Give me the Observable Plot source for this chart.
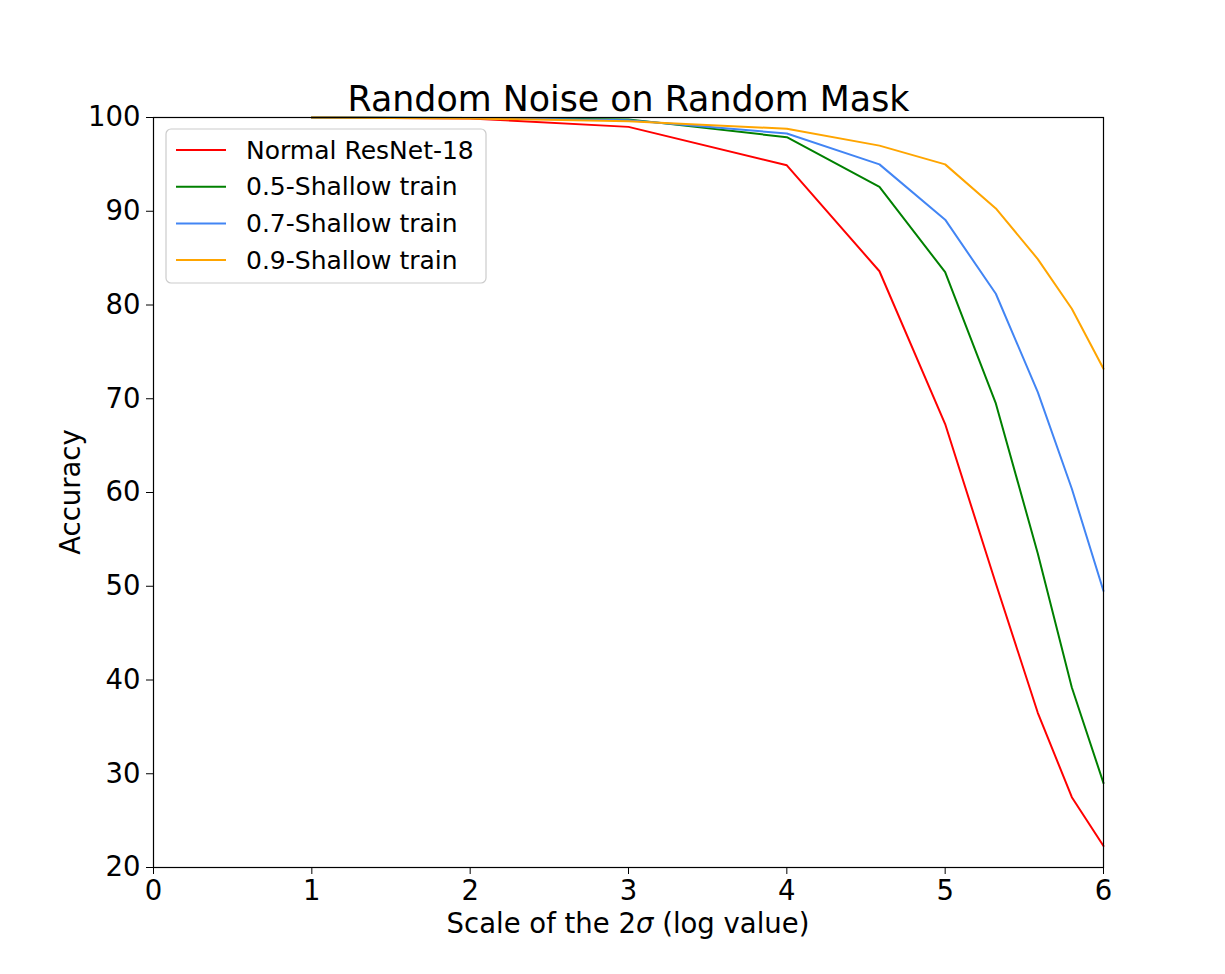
<!DOCTYPE html>
<html><head><meta charset="utf-8">
<script src="https://cdn.jsdelivr.net/npm/d3@7"></script>
<script src="https://cdn.jsdelivr.net/npm/@observablehq/plot@0.6"></script>
<style>body{margin:0;background:#fff;}</style>
</head><body><div id="chart"></div>
<script>
const xValues = [1, 2, 3, 4, 4.585, 5, 5.32, 5.585, 5.8, 6];
const seriesNames = ["Normal ResNet-18", "0.5-Shallow train", "0.7-Shallow train", "0.9-Shallow train"];
const seriesColors = ["#ff0000", "#008000", "#4285f4", "#ffa500"];
const normalResNet = [100, 99.9, 99.0, 94.9, 83.6, 67.3, 50.3, 36.5, 27.5, 22.3];
const shallow05 = [100, 99.95, 99.8, 97.9, 92.6, 83.5, 69.5, 53.5, 39.2, 29.0];
const shallow07 = [100, 99.95, 99.7, 98.3, 95.0, 89.1, 81.2, 70.7, 60.4, 49.5];
const shallow09 = [100, 99.9, 99.6, 98.8, 97.0, 95.0, 90.3, 84.9, 79.6, 73.2];
const xTicks = [0, 1, 2, 3, 4, 5, 6];
const yTicks = [20, 30, 40, 50, 60, 70, 80, 90, 100];
const titleText = "Random Noise on Random Mask";
const xLabelParts = [["Scale of the 2", "normal"], ["σ", "italic"], [" (log value)", "normal"]];
const yLabel = "Accuracy";

const allSeries = [normalResNet, shallow05, shallow07, shallow09];
const data = [];
allSeries.forEach((vals, i) => vals.forEach((v, j) => data.push({series: seriesNames[i], x: xValues[j], y: v})));

const font = "DejaVu Sans, sans-serif";
const plot = Plot.plot({
  width: 1225, height: 974,
  marginLeft: 153, marginRight: 122, marginTop: 117, marginBottom: 107,
  style: {fontFamily: font, background: "#fff", color: "#000", overflow: "visible"},
  x: {domain: [0, 6]},
  y: {domain: [20, 100]},
  color: {domain: seriesNames, range: seriesColors},
  marks: [
    Plot.line(data, {x: "x", y: "y", stroke: "series", strokeWidth: 2, z: "series"}),
    Plot.frame({stroke: "#000", strokeWidth: 1.2}),
    Plot.axisX({ticks: xTicks, tickSize: 7, tickPadding: 6, fontSize: 27.5, label: null, tickFormat: d => String(d), stroke: "#000"}),
    Plot.axisY({ticks: yTicks, tickSize: 7, tickPadding: 6, fontSize: 27.5, label: null, tickFormat: d => String(d), stroke: "#000"}),
    Plot.text([titleText], {frameAnchor: "top", dy: -7, fontSize: 34.8, lineAnchor: "bottom", fill: "#000"})
  ]
});
document.getElementById("chart").appendChild(plot);

const svg = d3.select(plot);
const xScale = plot.scale("x");
const yScale = plot.scale("y");
const xMid = (xScale.apply(xScale.domain[0]) + xScale.apply(xScale.domain[1])) / 2;
const yMid = (yScale.apply(yScale.domain[0]) + yScale.apply(yScale.domain[1])) / 2;
const yBottom = yScale.apply(yScale.domain[0]);

// x axis label with italic sigma
const xl = svg.append("text").attr("x", xMid).attr("y", yBottom + 66)
  .attr("text-anchor", "middle").attr("font-size", 27.5).attr("font-family", font).attr("fill", "#000");
xLabelParts.forEach(([t, s]) => xl.append("tspan").attr("font-style", s).text(t));

// y axis label
svg.append("text").attr("transform", `translate(70,${yMid}) rotate(-90)`)
  .attr("text-anchor", "middle").attr("dy", "0.35em")
  .attr("font-size", 27.5).attr("font-family", font).attr("fill", "#000").text(yLabel);

// in-plot legend, upper left
const color = plot.scale("color");
const lg = svg.append("g").attr("transform", "translate(166,129)");
lg.append("rect").attr("width", 320).attr("height", 154).attr("rx", 5)
  .attr("fill", "#fff").attr("fill-opacity", 0.8).attr("stroke", "#ccc").attr("stroke-width", 1.2);
seriesNames.forEach((name, i) => {
  const yy = 21 + i * 36.7;
  lg.append("line").attr("x1", 10).attr("x2", 60).attr("y1", yy).attr("y2", yy)
    .attr("stroke", color.apply(name)).attr("stroke-width", 2);
  lg.append("text").attr("x", 80).attr("y", yy).attr("dy", "0.35em").attr("text-anchor", "start")
    .attr("font-size", 25).attr("font-family", font).attr("fill", "#000").text(name);
});
</script></body></html>
